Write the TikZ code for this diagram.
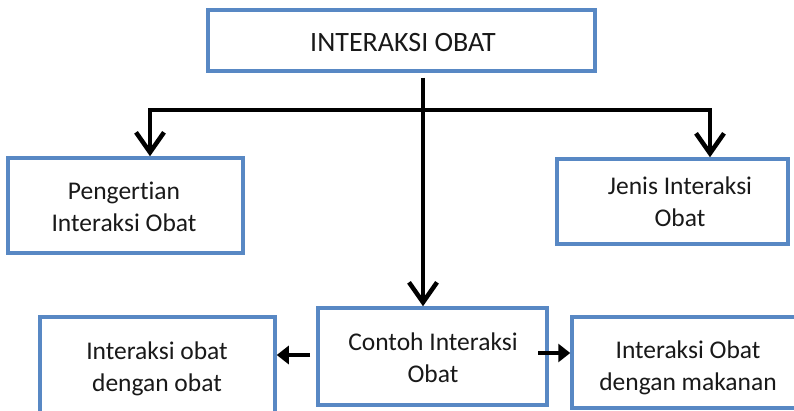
\documentclass[tikz,border=0pt]{standalone}
\usepackage{fontspec}
\setmainfont[Ligatures=NoCommon]{Carlito}
\usetikzlibrary{arrows.meta,calc}
\definecolor{boxblue}{RGB}{88,136,196}
\tikzset{
  box/.style={draw=boxblue, line width=3.5pt, fill=white, inner sep=0pt},
  txt/.style={align=center, text=black!90, font=\fontsize{25.5}{32}\selectfont},
  conn/.style={line width=4.5pt, black},
  downarrow/.style={conn, -{Straight Barb[length=20pt,width=28pt]}},
  sidearrow/.style={conn, -{Triangle[length=12pt,width=18pt]}}
}
\begin{document}
\begin{tikzpicture}[x=1pt,y=1pt]
\useasboundingbox (0,0) rectangle (794,410);
% boxes
\node[box, minimum width=387pt, minimum height=61pt] (top) at (401.5,369.5) {};
\node[txt, font=\fontsize{28}{32}\selectfont] (toptext) at (403,367) {INTERAKSI OBAT};
\node[box, minimum width=235pt, minimum height=95pt] (peng) at (125.5,204.5) {};
\node[txt] (pengtext) at (124,203.5) {Pengertian\\Interaksi Obat};
\node[box, minimum width=231pt, minimum height=85pt] (jenis) at (672.5,208.5) {};
\node[txt] (jenistext) at (680,208) {Jenis Interaksi\\Obat};
\node[box, minimum width=229pt, minimum height=97pt] (contoh) at (432.5,53.5) {};
\node[txt] (contohtext) at (433,52.5) {Contoh Interaksi\\Obat};
\node[box, minimum width=235pt, minimum height=104pt] (left) at (157.5,41) {};
\node[txt] (lefttext) at (157,41) {Interaksi obat\\dengan obat};
\node[box, minimum width=228pt, minimum height=91pt] (right) at (686,47.5) {};
\node[txt] (righttext) at (688,42.5) {Interaksi Obat\\dengan makanan};
% connectors
\coordinate (stem) at (423,332);
\coordinate (hub) at (423,300);
\draw[conn] (stem) -- (hub);
\draw[downarrow] (hub) -| ($(peng.north)+(24.5,0)$);
\draw[downarrow] (hub) -| ($(jenis.north)+(37.5,0)$);
\draw[downarrow] (stem) -- (contoh.north -| stem);
\coordinate (lstart) at (310,55);
\coordinate (rstart) at (538,57);
\draw[sidearrow] (lstart) -- (lstart -| left.east);
\draw[sidearrow] (rstart) -- (rstart -| right.west);
\end{tikzpicture}
\end{document}
